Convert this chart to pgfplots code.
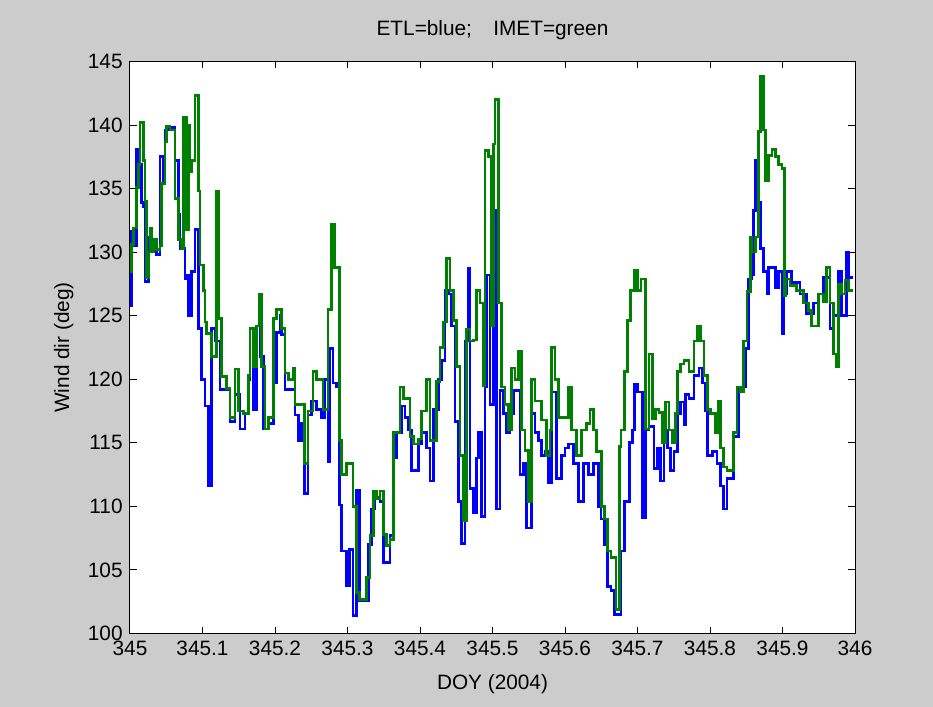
\documentclass[border=0pt]{standalone}
\usepackage{fontspec}
\setmainfont{Liberation Sans}
\usepackage{pgfplots}
\usepackage{pgfplotstable}
\pgfplotsset{compat=1.18}
\definecolor{bggray}{RGB}{204,204,204}
\definecolor{mblue}{RGB}{0,0,255}
\definecolor{mgreen}{RGB}{0,128,0}
\pgfplotstableread{
x y
345.0000 125.8
345.0023 131.6
345.0046 130.5
345.0092 138.1
345.0115 136.9
345.0161 133.9
345.0184 133.6
345.0207 127.7
345.0253 131.2
345.0299 130.0
345.0367 129.8
345.0413 137.5
345.0459 135.5
345.0482 139.6
345.0528 139.8
345.0620 137.2
345.0666 133.0
345.0690 130.3
345.0758 127.9
345.0781 128.2
345.0804 125.0
345.0850 128.5
345.0896 131.8
345.0942 124.0
345.0988 120.0
345.1033 117.9
345.1079 111.6
345.1125 124.0
345.1171 123.0
345.1240 119.2
345.1378 116.7
345.1447 118.8
345.1516 116.1
345.1585 117.3
345.1631 120.0
345.1654 124.0
345.1699 117.6
345.1745 124.2
345.1791 121.8
345.1837 116.1
345.1906 116.5
345.1975 119.7
345.2021 123.7
345.2067 125.0
345.2090 123.5
345.2136 119.2
345.2274 117.2
345.2320 115.2
345.2366 116.5
345.2411 111.0
345.2457 117.2
345.2503 118.3
345.2572 117.6
345.2641 117.0
345.2687 120.0
345.2733 113.5
345.2756 122.4
345.2802 119.7
345.2848 119.4
345.2894 110.1
345.2917 106.5
345.2986 103.8
345.3031 106.6
345.3077 101.4
345.3123 111.3
345.3169 102.6
345.3287 107.0
345.3333 109.8
345.3379 110.7
345.3448 110.4
345.3494 105.6
345.3586 107.7
345.3632 113.8
345.3678 115.8
345.3747 117.9
345.3793 117.0
345.3839 116.0
345.3885 112.8
345.3977 114.9
345.4023 115.8
345.4092 114.6
345.4138 112.0
345.4184 117.6
345.4253 120.0
345.4299 121.5
345.4345 127.0
345.4391 126.7
345.4437 124.2
345.4483 116.7
345.4529 110.4
345.4575 107.1
345.4621 123.0
345.4667 128.7
345.4690 111.4
345.4736 109.5
345.4782 113.8
345.4805 115.8
345.4851 109.2
345.4897 119.4
345.4920 128.2
345.4966 118.0
345.5012 133.3
345.5057 109.8
345.5103 119.1
345.5149 117.3
345.5195 115.8
345.5241 117.3
345.5287 119.1
345.5379 112.5
345.5425 113.4
345.5471 108.3
345.5540 117.3
345.5586 115.8
345.5632 115.2
345.5678 114.0
345.5724 114.3
345.5770 111.9
345.5816 119.0
345.5885 112.2
345.5954 114.0
345.6000 114.6
345.6046 114.9
345.6115 113.4
345.6184 110.4
345.6253 113.4
345.6322 112.5
345.6391 113.4
345.6460 110.0
345.6497 109.0
345.6542 107.0
345.6588 103.7
345.6634 103.4
345.6680 101.5
345.6771 106.5
345.6817 110.4
345.6886 115.0
345.6931 116.0
345.6954 119.6
345.7000 119.0
345.7069 109.1
345.7114 116.0
345.7160 116.3
345.7229 113.0
345.7275 114.6
345.7320 112.0
345.7366 116.0
345.7412 114.6
345.7458 112.8
345.7503 114.3
345.7549 117.3
345.7595 118.2
345.7641 116.4
345.7664 118.8
345.7709 118.5
345.7778 120.3
345.7847 120.9
345.7892 119.7
345.7938 117.5
345.7961 114.0
345.8030 114.3
345.8098 113.4
345.8144 111.6
345.8190 109.8
345.8236 112.2
345.8327 115.5
345.8396 119.4
345.8487 122.4
345.8533 127.9
345.8579 128.2
345.8602 133.3
345.8625 137.2
345.8670 133.9
345.8693 130.3
345.8739 128.5
345.8785 126.7
345.8808 128.8
345.8899 127.2
345.8945 128.5
345.8991 123.6
345.9014 126.7
345.9060 128.5
345.9128 127.6
345.9243 126.7
345.9334 125.2
345.9426 126.0
345.9495 126.7
345.9563 128.0
345.9655 124.0
345.9700 125.0
345.9769 128.5
345.9815 125.0
345.9884 130.0
345.9906 128.0
345.9975 128.0
}\etl
\pgfplotstableread{
x y
345.0000 128.5
345.0020 130.6
345.0046 131.9
345.0092 135.1
345.0115 136.9
345.0138 140.2
345.0184 137.2
345.0207 134.0
345.0230 128.0
345.0253 130.0
345.0276 131.9
345.0299 130.0
345.0322 131.0
345.0367 130.2
345.0413 130.5
345.0436 135.4
345.0482 138.7
345.0505 139.9
345.0551 139.6
345.0620 134.2
345.0666 131.0
345.0712 130.3
345.0735 140.6
345.0781 131.8
345.0804 140.0
345.0827 136.3
345.0850 137.2
345.0896 142.3
345.0942 134.8
345.0965 129.0
345.1010 127.0
345.1033 124.5
345.1056 123.6
345.1125 121.8
345.1194 134.8
345.1226 124.8
345.1263 120.2
345.1332 119.3
345.1378 117.0
345.1447 120.8
345.1493 117.5
345.1562 117.3
345.1631 120.3
345.1654 124.0
345.1699 121.0
345.1745 124.2
345.1782 126.7
345.1814 121.0
345.1860 116.1
345.1906 117.0
345.1975 124.8
345.2021 125.5
345.2090 124.0
345.2136 120.5
345.2182 120.0
345.2251 120.9
345.2274 118.0
345.2411 113.4
345.2457 117.5
345.2526 120.6
345.2572 120.0
345.2664 117.6
345.2733 125.5
345.2779 132.2
345.2825 128.8
345.2894 115.2
345.2917 112.5
345.2986 113.4
345.3077 110.0
345.3123 103.2
345.3170 102.7
345.3264 104.4
345.3310 107.7
345.3356 111.2
345.3402 110.6
345.3448 111.2
345.3494 107.8
345.3540 106.9
345.3586 107.4
345.3632 115.8
345.3724 119.4
345.3770 118.5
345.3862 115.5
345.3908 114.9
345.3977 115.3
345.4023 117.5
345.4092 120.0
345.4138 115.2
345.4230 119.8
345.4276 122.5
345.4322 124.5
345.4368 129.5
345.4414 127.0
345.4460 124.6
345.4506 121.0
345.4552 114.0
345.4598 108.9
345.4644 123.9
345.4690 123.0
345.4736 123.1
345.4782 127.0
345.4828 126.0
345.4874 119.5
345.4897 138.0
345.4943 137.5
345.4989 124.2
345.5012 138.5
345.5034 142.0
345.5080 126.0
345.5126 119.4
345.5172 118.0
345.5218 116.0
345.5264 120.9
345.5310 120.0
345.5356 122.2
345.5402 116.0
345.5448 114.4
345.5494 110.4
345.5540 120.0
345.5586 118.3
345.5678 116.8
345.5747 114.0
345.5793 116.0
345.5816 122.5
345.5862 120.0
345.5908 117.0
345.6046 119.4
345.6092 116.0
345.6161 114.0
345.6230 116.0
345.6299 116.5
345.6345 117.6
345.6391 116.0
345.6437 114.3
345.6506 110.0
345.6542 109.0
345.6588 106.5
345.6634 106.0
345.6703 101.9
345.6748 114.7
345.6771 116.0
345.6817 120.6
345.6863 124.6
345.6908 127.0
345.6954 128.6
345.7000 127.0
345.7046 127.9
345.7114 116.1
345.7160 122.0
345.7206 116.9
345.7252 117.6
345.7297 117.4
345.7343 115.0
345.7389 118.2
345.7435 116.0
345.7481 115.0
345.7526 117.3
345.7549 120.6
345.7595 121.2
345.7641 121.5
345.7709 120.6
345.7778 123.0
345.7824 124.2
345.7870 123.0
345.7915 120.3
345.7961 117.6
345.8007 117.3
345.8076 115.8
345.8121 118.3
345.8144 114.6
345.8190 113.1
345.8236 112.8
345.8327 115.8
345.8373 119.4
345.8419 119.0
345.8465 123.0
345.8510 126.9
345.8556 131.2
345.8579 130.0
345.8625 131.2
345.8670 139.5
345.8693 143.8
345.8739 139.6
345.8762 135.6
345.8808 137.6
345.8854 138.1
345.8899 137.5
345.8945 136.9
345.8991 136.6
345.9023 126.6
345.9037 127.9
345.9105 127.4
345.9197 127.0
345.9288 126.0
345.9357 125.4
345.9403 124.2
345.9495 126.7
345.9563 126.1
345.9609 128.8
345.9655 126.0
345.9700 122.0
345.9746 121.0
345.9769 127.5
345.9815 126.7
345.9861 127.8
345.9906 127.0
345.9975 127.0
}\imet
\begin{document}
\begin{tikzpicture}[x=0.75pt,y=0.75pt]
\fill[bggray] (0,0) rectangle (933,707);
\path[use as bounding box] (0,0) rectangle (933,707);
\begin{axis}[
  at={(97.5pt,55.125pt)}, anchor=south west,
  scale only axis, width=543.75pt, height=429pt,
  xmin=345, xmax=346, ymin=100, ymax=145,
  axis background/.style={fill=white},
  xtick={345,345.1,345.2,345.3,345.4,345.5,345.6,345.7,345.8,345.9,346},
  xticklabels={345,345.1,345.2,345.3,345.4,345.5,345.6,345.7,345.8,345.9,346},
  ytick={100,105,110,115,120,125,130,135,140,145},
  yticklabels={100,105,110,115,120,125,130,135,140,145},
  tick align=inside, major tick length=5pt,
  every tick/.style={black, line width=0.75pt},
  axis line style={black, line width=0.75pt},
  /pgf/number format/assume math mode=true,
  ticklabel style={font=\fontsize{15.6}{18}\selectfont},
  xticklabel style={yshift=-2pt},
  yticklabel style={xshift=-2pt},
  label style={font=\fontsize{15.6}{18}\selectfont},
  title style={font=\fontsize{15.6}{18}\selectfont, at={(axis description cs:0.5,1.0323)}, anchor=base},
  title={ETL=blue;\hspace{16pt}IMET=green},
  xlabel={DOY (2004)},
  ylabel={Wind dir (deg)},
  xlabel style={at={(axis description cs:0.5,-0.098)}, anchor=base},
  ylabel style={at={(axis description cs:-0.0841,0.5)}, anchor=base},
]
\addplot[const plot, mblue, line width=2pt] table {\etl};
\addplot[const plot, mgreen, line width=2pt] table {\imet};
\end{axis}
\end{tikzpicture}
\end{document}
